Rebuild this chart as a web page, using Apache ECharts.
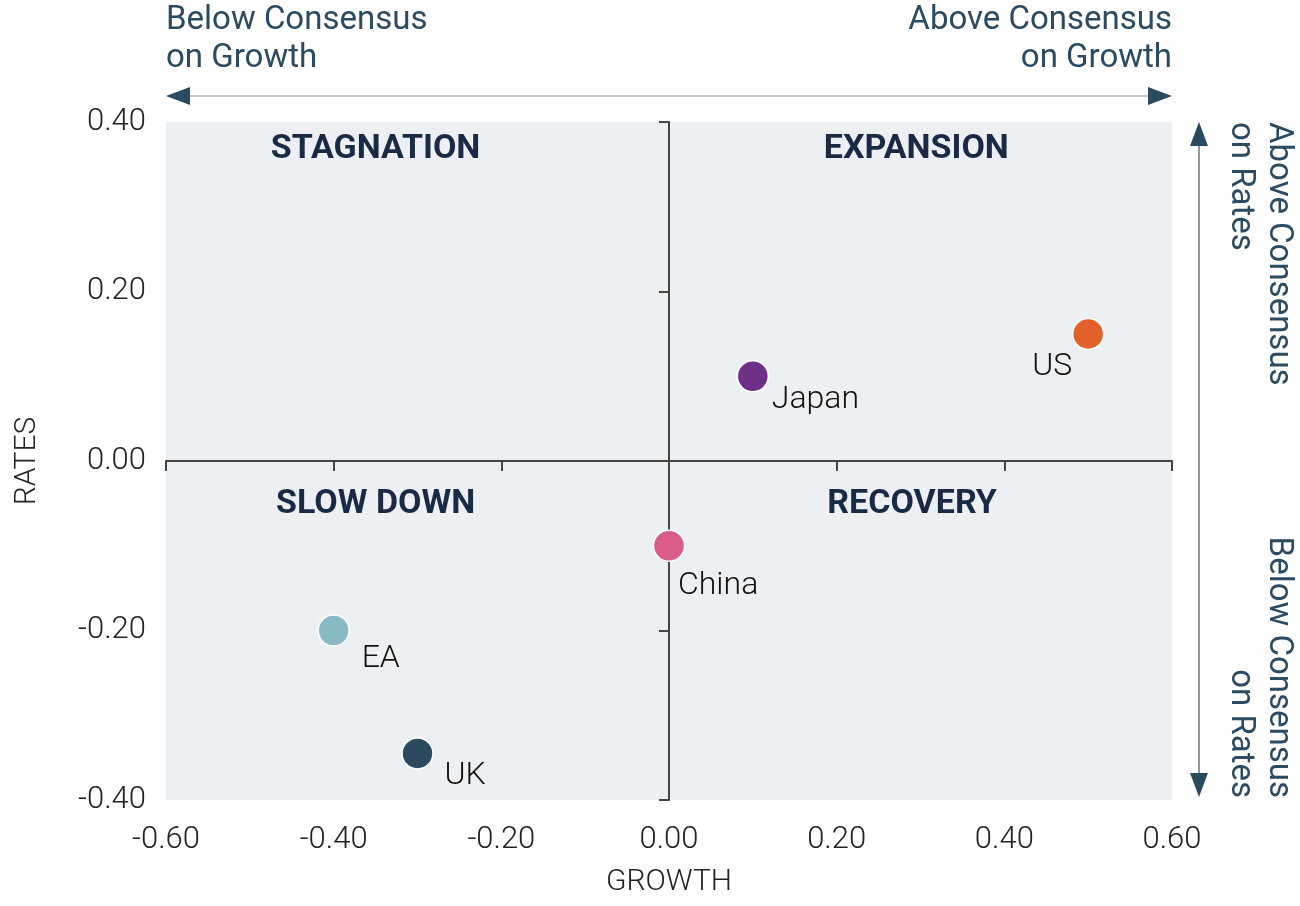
<!DOCTYPE html>
<html>
<head>
<meta charset="utf-8">
<title>Growth vs Rates</title>
<script src="https://cdn.jsdelivr.net/npm/echarts@6/dist/echarts.min.js"></script>
<style>
  html, body { margin: 0; padding: 0; background: #fff; }
  #chart { width: 1300px; height: 906px; }
</style>
</head>
<body>
<div id="chart"></div>
<script>
// country positions vs consensus
var countries = ['US', 'Japan', 'China', 'EA', 'UK'];
var growth = [0.50, 0.10, 0.00, -0.40, -0.30];
var rates = [0.15, 0.10, -0.10, -0.20, -0.345];
var colors = ['#e2612b', '#6e2f87', '#d95c8c', '#88bac5', '#2b4a60'];

// quadrant titles (data coords)
var quadrants = ['STAGNATION', 'EXPANSION', 'SLOW DOWN', 'RECOVERY'];
var quadrantX = [-0.35, 0.295, -0.35, 0.29];
var quadrantY = [0.368, 0.368, -0.051, -0.051];

var xMin = -0.6, xMax = 0.6, xStep = 0.2;
var yMin = -0.4, yMax = 0.4, yStep = 0.2;

// label placement around each dot
var labelPlace = {
  US:    { align: 'right', offset: [-16, 33] },
  Japan: { align: 'left',  offset: [19, 24] },
  China: { align: 'left',  offset: [9, 40] },
  EA:    { align: 'left',  offset: [28, 28] },
  UK:    { align: 'left',  offset: [27, 23] }
};

var FONT = 'Roboto';
var noteColor = '#2b4b62';

var myChart = echarts.init(document.getElementById('chart'));

var points = [];
for (var i = 0; i < countries.length; i++) {
  var lp = labelPlace[countries[i]];
  points.push({
    name: countries[i],
    value: [growth[i], rates[i]],
    itemStyle: { color: colors[i] },
    label: { align: lp.align, offset: lp.offset }
  });
}

var qdata = [];
for (var j = 0; j < quadrants.length; j++) {
  qdata.push({ name: quadrants[j], value: [quadrantX[j], quadrantY[j]] });
}

function fmt(v) { return v.toFixed(2); }

var tickLabel = { fontFamily: FONT, fontWeight: 300, fontSize: 31, color: '#222' };

var option = {
  backgroundColor: '#fff',
  animation: false,
  grid: {
    left: 166, right: 128, top: 122, bottom: 106,
    show: true, backgroundColor: '#edf0f3', borderWidth: 0
  },
  xAxis: [
    {
      type: 'value', min: xMin, max: xMax, interval: xStep, position: 'bottom',
      axisLine: { show: false, onZero: false },
      axisTick: { show: false },
      splitLine: { show: false },
      axisLabel: Object.assign({ formatter: fmt, margin: 25 }, tickLabel),
      name: 'GROWTH', nameLocation: 'middle', nameGap: 67,
      nameTextStyle: { fontFamily: FONT, fontWeight: 300, fontSize: 30, color: '#222' }
    },
    {
      type: 'value', min: xMin, max: xMax, interval: xStep, position: 'bottom',
      axisLine: { show: true, onZero: true, onZeroAxisIndex: 0, lineStyle: { color: '#454545', width: 2 } },
      axisTick: { show: true, length: 10, lineStyle: { color: '#454545', width: 2 } },
      axisLabel: { show: false },
      splitLine: { show: false }
    }
  ],
  yAxis: [
    {
      type: 'value', min: yMin, max: yMax, interval: yStep, position: 'left',
      axisLine: { show: false, onZero: false },
      axisTick: { show: false },
      splitLine: { show: false },
      axisLabel: Object.assign({ formatter: fmt, margin: 20 }, tickLabel),
      name: 'RATES', nameLocation: 'middle', nameGap: 124,
      nameTextStyle: { fontFamily: FONT, fontWeight: 300, fontSize: 30, color: '#222' }
    },
    {
      type: 'value', min: yMin, max: yMax, interval: yStep, position: 'left',
      axisLine: { show: true, onZero: true, onZeroAxisIndex: 0, lineStyle: { color: '#454545', width: 2 } },
      axisTick: { show: true, length: 10, lineStyle: { color: '#454545', width: 2 } },
      axisLabel: { show: false },
      splitLine: { show: false }
    }
  ],
  series: [
    {
      name: 'quadrants', type: 'scatter', xAxisIndex: 0, yAxisIndex: 0,
      symbolSize: 0, silent: true, z: 1,
      itemStyle: { opacity: 1 },
      label: {
        show: true, position: 'inside', formatter: '{b}',
        fontFamily: FONT, fontWeight: 'bold', fontSize: 34, color: '#1b2a44', opacity: 1
      },
      data: qdata
    },
    {
      name: 'countries', type: 'scatter', xAxisIndex: 0, yAxisIndex: 0,
      symbol: 'circle', symbolSize: 31, z: 5,
      itemStyle: { borderColor: '#fff', borderWidth: 1.5, opacity: 1 },
      label: {
        show: true, position: 'inside', verticalAlign: 'middle', formatter: '{b}',
        fontFamily: FONT, fontWeight: 300, fontSize: 32, color: '#111', opacity: 1
      },
      data: points
    }
  ]
};

myChart.setOption(option);

// arrows and consensus notes, placed from the grid edges
var pL = myChart.convertToPixel({ xAxisIndex: 0 }, xMin);
var pR = myChart.convertToPixel({ xAxisIndex: 0 }, xMax);
var pT = myChart.convertToPixel({ yAxisIndex: 0 }, yMax);
var pB = myChart.convertToPixel({ yAxisIndex: 0 }, yMin);

var headLen = 24, headW = 9;
var hy = pT - 26;        // horizontal arrow
var vx = pR + 27;        // vertical arrow
var headColor = '#2a4a60';

var txt = { fontFamily: FONT, fontSize: 33, fill: noteColor, lineHeight: 38 };

myChart.setOption({
  graphic: [
    { type: 'line', shape: { x1: pL + headLen - 2, y1: hy, x2: pR - headLen + 2, y2: hy },
      style: { stroke: '#c8cdd2', lineWidth: 2 } },
    { type: 'polygon', shape: { points: [[pL, hy], [pL + headLen, hy - headW], [pL + headLen, hy + headW]] },
      style: { fill: headColor } },
    { type: 'polygon', shape: { points: [[pR, hy], [pR - headLen, hy - headW], [pR - headLen, hy + headW]] },
      style: { fill: headColor } },

    { type: 'line', shape: { x1: vx, y1: pT + headLen - 2, x2: vx, y2: pB - headLen + 2 },
      style: { stroke: '#8c98a2', lineWidth: 2 } },
    { type: 'polygon', shape: { points: [[vx, pT], [vx - headW, pT + headLen], [vx + headW, pT + headLen]] },
      style: { fill: headColor } },
    { type: 'polygon', shape: { points: [[vx, pB - 3], [vx - headW, pB - 3 - headLen], [vx + headW, pB - 3 - headLen]] },
      style: { fill: headColor } },

    { type: 'text', x: pL, y: 2,
      style: Object.assign({ text: 'Below Consensus\non Growth', align: 'left', verticalAlign: 'top' }, txt) },
    { type: 'text', x: pR, y: 2,
      style: Object.assign({ text: 'Above Consensus\non Growth', align: 'right', verticalAlign: 'top' }, txt) },
    { type: 'text', x: 1297, y: pT, rotation: -Math.PI / 2,
      style: Object.assign({ text: 'Above Consensus\non Rates', align: 'left', verticalAlign: 'top' }, txt) },
    { type: 'text', x: 1297, y: pB - 2, rotation: -Math.PI / 2,
      style: Object.assign({ text: 'Below Consensus\non Rates', align: 'right', verticalAlign: 'top' }, txt) }
  ]
});
</script>
</body>
</html>
